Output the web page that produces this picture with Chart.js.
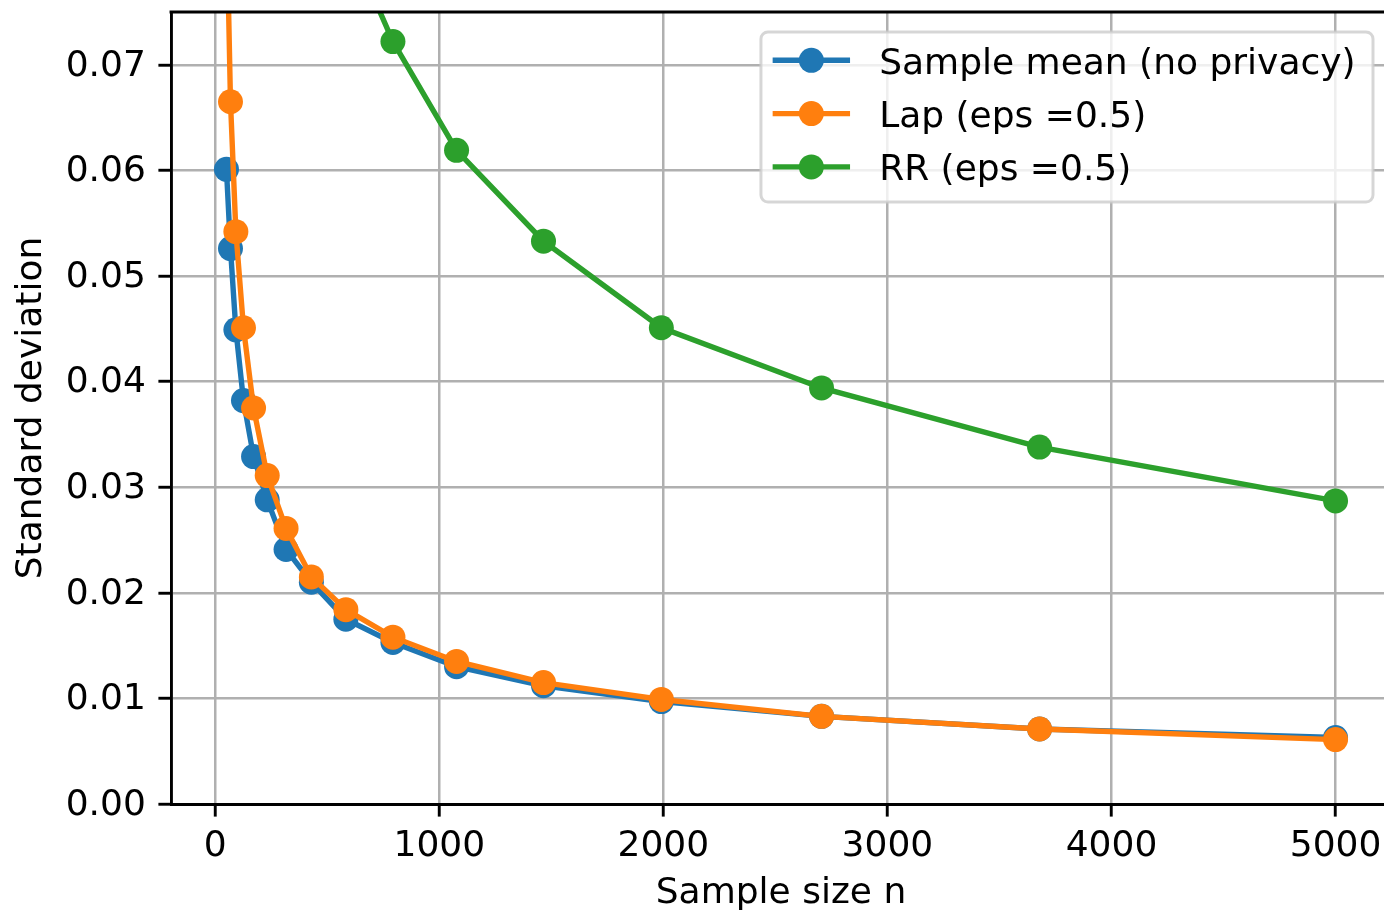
<!DOCTYPE html>
<html><head><meta charset="utf-8">
<script src="https://cdn.jsdelivr.net/npm/chart.js@4/dist/chart.umd.min.js"></script>
<style>
html,body{margin:0;padding:0;background:#fff;overflow:hidden;width:1384px;height:912px}
#wrap{position:absolute;left:0;top:0;width:1391px;height:912px}
</style></head><body>
<div id="wrap"><canvas id="c" width="1391" height="912"></canvas></div>
<script>
// ---- data ----
const sampleSizes = [50, 68, 92, 126, 171, 232, 316, 429, 583, 793, 1077, 1465, 1991, 2706, 3679, 5000];
const sampleMeanStd = [0.0601, 0.0526, 0.0449, 0.0382, 0.0329, 0.0288, 0.0241, 0.0210, 0.0175, 0.0153, 0.0130, 0.0112, 0.0097, 0.0083, 0.0071, 0.0063];
const lapStd = [0.0850, 0.0665, 0.0542, 0.0451, 0.0375, 0.0311, 0.0261, 0.0215, 0.0184, 0.0158, 0.0135, 0.0115, 0.0099, 0.0083, 0.0071, 0.0061];
const rrStd = [0.287, 0.246, 0.212, 0.181, 0.155, 0.133, 0.114, 0.098, 0.0824, 0.0722, 0.0619, 0.0533, 0.0451, 0.0394, 0.0338, 0.0287];
const xTickValues = [0, 1000, 2000, 3000, 4000, 5000];
const yTickValues = [0, 0.01, 0.02, 0.03, 0.04, 0.05, 0.06, 0.07];
const seriesLabels = ['Sample mean (no privacy)', 'Lap (eps =0.5)', 'RR (eps =0.5)'];
const seriesColors = ['#1f77b4', '#ff7f0e', '#2ca02c'];
const xLabel = 'Sample size n';
const yLabel = 'Standard deviation';

const FONT = 'DejaVu Sans';
const FS = 36;
Chart.defaults.font.family = FONT;
Chart.defaults.font.size = FS;
Chart.defaults.color = '#000';

function mkDataset(label, values, color, order) {
  return {
    label: label,
    data: sampleSizes.map((n, i) => ({x: n, y: values[i]})),
    borderColor: color,
    backgroundColor: color,
    borderWidth: 5.4,
    pointRadius: 12.5,
    pointBorderWidth: 0,
    pointBackgroundColor: color,
    pointHoverRadius: 12.5,
    tension: 0,
    clip: 0,
    order: order
  };
}

const spinePlugin = {
  id: 'spines',
  beforeDraw(chart) {
    const ys = chart.scales.y;
    const items = ys.getLabelItems();
    if (!items._shifted) {
      items.forEach(it => { it.options.translation[1] += 1.5; });
      items._shifted = true;
    }
  },
  afterDatasetsDraw(chart) {
    const {ctx, chartArea} = chart;
    ctx.save();
    ctx.strokeStyle = '#000';
    ctx.lineWidth = 2.9;
    ctx.beginPath();
    ctx.moveTo(chartArea.left - 1.45, chartArea.top);
    ctx.lineTo(chartArea.right, chartArea.top);
    ctx.stroke();
    ctx.restore();
  },
  afterDraw(chart) {
    const {ctx, chartArea} = chart;
    ctx.save();
    ctx.font = FS + 'px "' + FONT + '"';
    const ds = chart.data.datasets;
    let maxW = 0;
    ds.forEach(d => { maxW = Math.max(maxW, ctx.measureText(d.label).width); });
    const pad = 0.4 * FS, handle = 2.0 * FS, htp = 0.8 * FS;
    const textStart = pad + handle + htp + 3;
    const boxW = textStart + maxW + pad + 3;
    const right = chartArea.right - 18;
    const left = right - boxW;
    const top = chartArea.top + 20;
    const rowH = 53.3;
    const boxH = 170;
    const r = 7;
    ctx.beginPath();
    ctx.moveTo(left + r, top);
    ctx.lineTo(left + boxW - r, top);
    ctx.arcTo(left + boxW, top, left + boxW, top + r, r);
    ctx.lineTo(left + boxW, top + boxH - r);
    ctx.arcTo(left + boxW, top + boxH, left + boxW - r, top + boxH, r);
    ctx.lineTo(left + r, top + boxH);
    ctx.arcTo(left, top + boxH, left, top + boxH - r, r);
    ctx.lineTo(left, top + r);
    ctx.arcTo(left, top, left + r, top, r);
    ctx.closePath();
    ctx.fillStyle = 'rgba(255,255,255,0.8)';
    ctx.fill();
    ctx.strokeStyle = 'rgba(204,204,204,0.8)';
    ctx.lineWidth = 3;
    ctx.stroke();
    ds.forEach((d, i) => {
      const cy = top + 28.3 + i * rowH;
      const x0 = left + pad;
      ctx.strokeStyle = d.borderColor;
      ctx.lineWidth = 5.4;
      ctx.lineCap = 'square';
      ctx.beginPath();
      ctx.moveTo(x0, cy);
      ctx.lineTo(x0 + handle, cy);
      ctx.stroke();
      ctx.fillStyle = d.borderColor;
      ctx.beginPath();
      ctx.arc(x0 + handle / 2, cy, 12.5, 0, Math.PI * 2);
      ctx.fill();
      ctx.fillStyle = '#000';
      ctx.textBaseline = 'alphabetic';
      ctx.textAlign = 'left';
      ctx.fillText(d.label, left + textStart, cy + 13.3);
    });
    ctx.restore();
  }
};

new Chart(document.getElementById('c'), {
  type: 'line',
  data: {
    datasets: [
      mkDataset(seriesLabels[0], sampleMeanStd, seriesColors[0], 2),
      mkDataset(seriesLabels[1], lapStd, seriesColors[1], 1),
      mkDataset(seriesLabels[2], rrStd, seriesColors[2], 0)
    ]
  },
  options: {
    responsive: false,
    devicePixelRatio: 1,
    animation: false,
    events: [],
    layout: {autoPadding: false, padding: {left: 0, right: 0, top: 12, bottom: 0}},
    plugins: {legend: {display: false}, tooltip: {enabled: false}},
    scales: {
      x: {
        type: 'linear',
        min: -197.5,
        max: 5247.5,
        afterBuildTicks: (s) => { s.ticks = xTickValues.map(v => ({value: v})); },
        afterFit: (s) => { s.height = 108; s.paddingLeft = 0; s.paddingRight = 0; },
        ticks: {
          callback: (v) => String(v),
          font: {size: FS, family: FONT},
          color: '#000',
          padding: 8,
          maxRotation: 0,
          autoSkip: false
        },
        grid: {color: '#b0b0b0', lineWidth: 2.5, tickLength: 12.6, tickColor: '#000', tickWidth: 2.9, drawTicks: true},
        border: {color: '#000', width: 2.9},
        title: {display: true, text: xLabel, color: '#000', font: {size: FS, family: FONT, lineHeight: 1.1}, padding: {top: 0, bottom: -1}}
      },
      y: {
        type: 'linear',
        min: 0,
        max: 0.075,
        afterBuildTicks: (s) => { s.ticks = yTickValues.map(v => ({value: v})); },
        afterFit: (s) => { s.width = 171; s.paddingTop = 0; s.paddingBottom = 0; },
        ticks: {
          callback: (v) => v.toFixed(2),
          font: {size: FS, family: FONT},
          color: '#000',
          padding: 12.6,
          autoSkip: false
        },
        grid: {color: '#b0b0b0', lineWidth: 2.5, tickLength: 12.6, tickColor: '#000', tickWidth: 2.9, drawTicks: true},
        border: {color: '#000', width: 2.9},
        title: {display: true, text: yLabel, color: '#000', font: {size: FS, family: FONT, lineHeight: 1.1}, padding: {top: 11.7, bottom: 0}}
      }
    }
  },
  plugins: [spinePlugin]
});
</script>
</body></html>
